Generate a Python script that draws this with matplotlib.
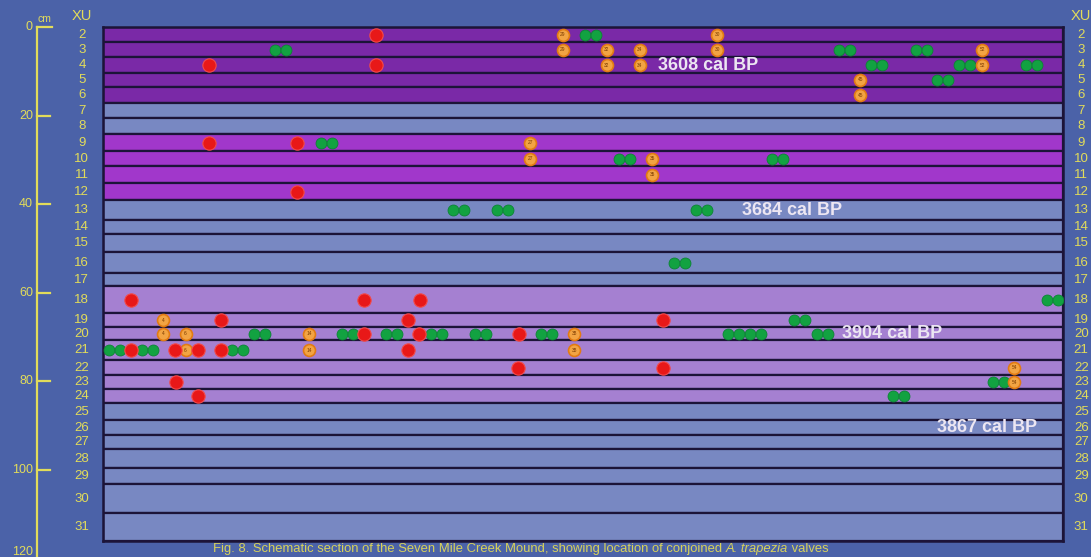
import numpy as np
import matplotlib.pyplot as plt
from matplotlib import transforms

plt.rcParams['font.family'] = ['Liberation Sans', 'DejaVu Sans']

# excavation units (XU) and their boundaries, cm below surface
xu = list(range(2, 32))
bounds = [0.0, 3.4, 6.8, 10.4, 13.5, 17.2, 20.5, 24.2, 28.0, 31.4, 35.2,
          39.1, 43.6, 46.7, 50.8, 55.5, 58.5, 64.6, 67.7, 70.7, 75.2,
          78.6, 81.7, 84.9, 88.7, 92.1, 95.3, 99.5, 103.2, 109.7, 116.0]
zone = ['a'] * 5 + ['g'] * 2 + ['b'] * 4 + ['g'] * 5 + ['c'] * 7 + ['g'] * 7

# conjoined valves, position along section (% of width) and XU
red_x = [28.4, 11.0, 28.4, 11.0, 20.2, 20.2, 2.9, 27.2, 33.0, 12.3, 31.8,
         58.3, 27.2, 32.9, 43.3, 2.9, 7.5, 9.9, 12.3, 31.8, 43.2, 58.3,
         7.6, 9.9]
red_xu = [2, 4, 4, 9, 9, 12, 18, 18, 18, 19, 19,
          19, 20, 20, 20, 21, 21, 21, 21, 21, 22, 22,
          23, 24]

green_x = [50.8, 18.5, 77.2, 85.3, 80.6, 89.7, 96.7, 87.4, 23.3, 54.3, 70.3,
           37.0, 41.6, 62.3, 60.1, 98.9, 72.6, 16.3, 25.5, 30.1, 34.7, 39.3,
           46.2, 65.7, 68.0, 74.9, 1.2, 4.6, 14.0, 93.3, 82.9]
green_xu = [2, 3, 3, 3, 4, 4, 4, 5, 9, 10, 10,
            13, 13, 13, 16, 18, 19, 20, 20, 20, 20, 20,
            20, 20, 20, 20, 21, 21, 21, 23, 24]

# valves split between adjacent XUs
orange_x = [47.9, 47.9, 64.0, 64.0, 52.5, 52.5, 55.9, 55.9, 91.6, 91.6,
            78.9, 78.9, 44.5, 44.5, 57.2, 57.2, 6.3, 6.3, 8.6, 8.6,
            21.5, 21.5, 49.1, 49.1, 94.9, 94.9]
orange_xu = [2, 3, 2, 3, 3, 4, 3, 4, 3, 4,
             5, 6, 9, 10, 10, 11, 19, 20, 20, 21,
             20, 21, 20, 21, 22, 23]
orange_id = ['29', '29', '30', '30', '32', '32', '34', '34', '52', '52',
             '45', '45', '27', '27', '35', '35', '4', '4', '6', '6',
             '14', '14', '38', '38', '54', '54']

date_labels = ['3608 cal BP', '3684 cal BP', '3904 cal BP', '3867 cal BP']
date_x = [57.8, 66.6, 77.0, 86.9]
date_xu = [4, 13, 20, 26]

scale_cm = [0, 20, 40, 60, 80, 100, 120]

bg = '#4b62a8'
yellow = '#e2dc5a'
edge = '#1c1438'
zone_col = {'a': '#7a29a7', 'b': '#a137cb', 'c': '#a580d1', 'g': '#7888c2'}

W, H = 1091, 557
fig = plt.figure(figsize=(W / 100, H / 100), dpi=100, facecolor=bg)
ax = fig.add_axes([103 / W, 1 - 541 / H, 960 / W, 514 / H])
ax.set_xlim(0, 100)
ax.set_ylim(bounds[-1], bounds[0])
ax.set_facecolor(bg)

bounds = np.array(bounds)
mid = (bounds[:-1] + bounds[1:]) / 2
thick = bounds[1:] - bounds[:-1]
ax.barh(mid, 100, height=thick, left=0, color=[zone_col[z] for z in zone],
        edgecolor=edge, linewidth=1.6, zorder=1)

for s in ax.spines.values():
    s.set_color(edge)
    s.set_linewidth(1.8)
ax.set_xticks([])
ax.set_yticks([])


def depth(units):
    return [mid[u - 2] for u in units]


gx = np.array(green_x)
gy = depth(green_xu)
for off in (-0.57, 0.57):
    ax.scatter(gx + off, gy, s=62, c='#12a241', edgecolors='#0b8434',
               linewidths=0.6, zorder=3)

ax.scatter(orange_x, depth(orange_xu), s=74, c='#f2a443',
           edgecolors='#e27b12', linewidths=1.2, zorder=4)
for x, y, t in zip(orange_x, depth(orange_xu), orange_id):
    ax.text(x, y, t, fontsize=3.5, color='#7a3a00', ha='center',
            va='center', zorder=5)

ax.scatter(red_x, depth(red_xu), s=92, c='#e81818', edgecolors='#f24a4a',
           linewidths=0.8, zorder=5)

for lab, x, u in zip(date_labels, date_x, date_xu):
    ax.text(x, mid[u - 2], lab, fontsize=13, fontweight='bold',
            color='#ece6f2', ha='left', va='center', zorder=6)

# XU numbers on both sides
ytr = ax.get_yaxis_transform()
for u, m in zip(xu, mid):
    ax.text(-0.022, m, str(u), transform=ytr, fontsize=9.5, color=yellow,
            ha='center', va='center', clip_on=False)
    ax.text(1.019, m, str(u), transform=ytr, fontsize=9.5, color=yellow,
            ha='center', va='center', clip_on=False)
ax.text(-0.022, -2.5, 'XU', transform=ytr, fontsize=10.5, color=yellow,
        ha='center', va='center', clip_on=False)
ax.text(1.019, -2.5, 'XU', transform=ytr, fontsize=10.5, color=yellow,
        ha='center', va='center', clip_on=False)

# depth scale in cm
str_ = transforms.blended_transform_factory(fig.transFigure, ax.transData)
x0 = 37 / W
ax.plot([x0, x0], [0, scale_cm[-1]], transform=str_, color=yellow, lw=1.6,
        clip_on=False)
for c in scale_cm:
    x1 = 52 / W if c == 0 else 50 / W
    ax.plot([x0, x1], [c, c], transform=str_, color=yellow, lw=1.6,
            clip_on=False)
    lift = 4.5 if c == scale_cm[-1] else 0
    ax.annotate(str(c), xy=(33 / W, c), xycoords=str_, xytext=(0, lift),
                textcoords='offset points', fontsize=9, color=yellow,
                ha='right', va='center', annotation_clip=False)
ax.text(44 / W, -1.9, 'cm', transform=str_, fontsize=7.5, color=yellow,
        ha='center', va='center', clip_on=False)

cap_y = 1 - 549 / H
cap = fig.text(213 / W, cap_y,
               'Fig. 8. Schematic section of the Seven Mile Creek Mound, '
               'showing location of conjoined ',
               fontsize=9.4, color='#d8d25a', ha='left', va='center')
cap2 = fig.text(0, 0, 'A. trapezia', fontsize=9.4, style='italic',
                color='#d8d25a', ha='left', va='center')
fig.canvas.draw()
bb = cap.get_window_extent()
cap2.set_position((bb.x1 / W, cap_y))
fig.canvas.draw()
bb2 = cap2.get_window_extent()
fig.text(bb2.x1 / W, cap_y, ' valves', fontsize=9.4, color='#d8d25a',
         ha='left', va='center')

fig.savefig('out.png', dpi=100, facecolor=bg)
